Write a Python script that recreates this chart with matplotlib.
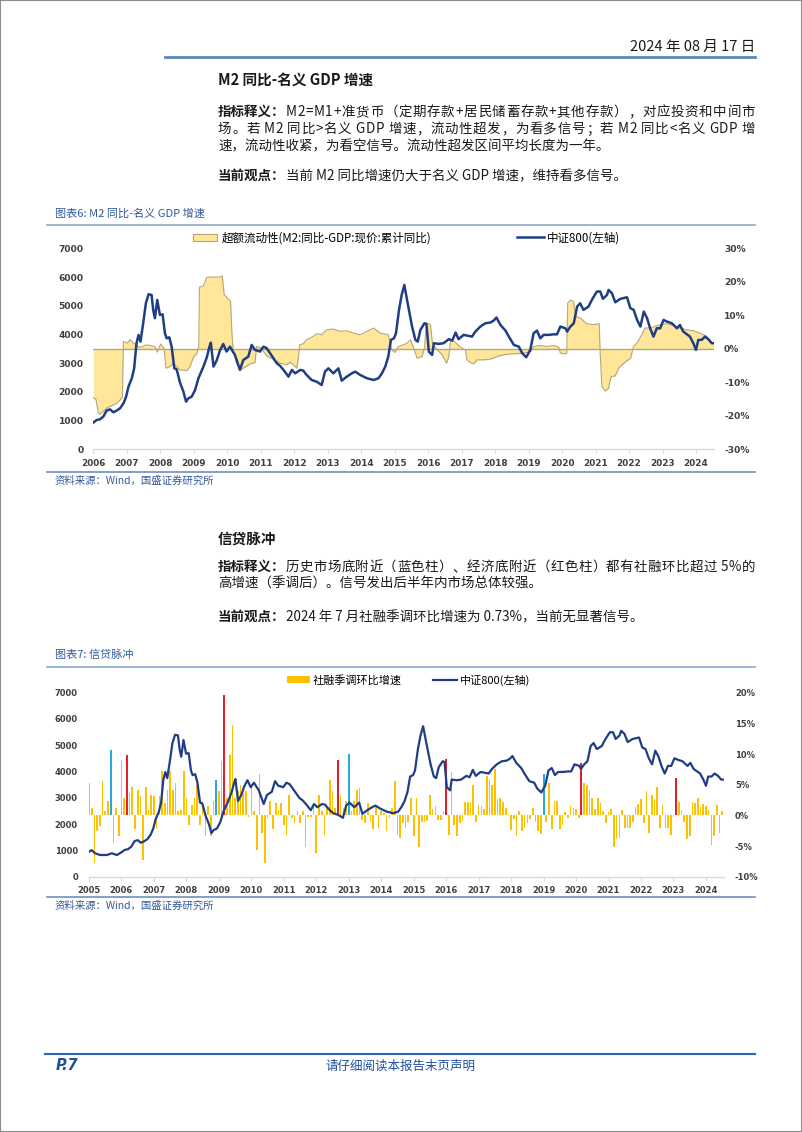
import matplotlib
matplotlib.use("Agg")
import matplotlib.pyplot as plt
from matplotlib.patches import Patch, Rectangle
from matplotlib.lines import Line2D

plt.rcParams['font.family'] = ['Noto Sans CJK SC', 'DejaVu Sans']
plt.rcParams['axes.unicode_minus'] = False

W, H = 802, 1132

# CSI 800 index (left axis of both charts), decimal years
csi_years = [2005.00, 2005.08, 2005.19, 2005.34, 2005.55, 2005.70, 2005.86,
             2006.00, 2006.10, 2006.20, 2006.30, 2006.40, 2006.50, 2006.60, 2006.70, 2006.80, 2006.90, 2006.98,
             2007.05, 2007.15, 2007.22, 2007.29, 2007.35, 2007.41, 2007.49, 2007.57, 2007.65, 2007.74, 2007.79,
             2007.84, 2007.91, 2007.99,
             2008.07, 2008.14, 2008.19, 2008.27, 2008.34, 2008.42, 2008.49, 2008.59, 2008.69, 2008.77, 2008.84, 2008.94,
             2009.04, 2009.14, 2009.29, 2009.39, 2009.47, 2009.51, 2009.59, 2009.69, 2009.78, 2009.88, 2009.98,
             2010.08, 2010.23, 2010.38, 2010.48, 2010.63, 2010.73, 2010.83, 2010.98,
             2011.08, 2011.18, 2011.28, 2011.38, 2011.48, 2011.58, 2011.68, 2011.83, 2011.93,
             2012.03, 2012.18, 2012.27, 2012.37, 2012.52, 2012.67, 2012.82, 2012.92,
             2013.02, 2013.17, 2013.32, 2013.42, 2013.57, 2013.72, 2013.82, 2013.97,
             2014.17, 2014.37, 2014.52, 2014.62, 2014.72, 2014.81, 2014.89, 2014.98,
             2015.04, 2015.13, 2015.21, 2015.29, 2015.37, 2015.52, 2015.62, 2015.69, 2015.77, 2015.89, 2015.95,
             2016.02, 2016.12, 2016.17, 2016.32, 2016.46, 2016.62, 2016.72, 2016.82, 2016.91,
             2017.06, 2017.21, 2017.31, 2017.41, 2017.56, 2017.71, 2017.86, 2017.96,
             2018.04, 2018.16, 2018.31, 2018.41, 2018.56, 2018.71, 2018.81, 2018.93,
             2019.05, 2019.15, 2019.25, 2019.35, 2019.45, 2019.60, 2019.75, 2019.85, 2019.95,
             2020.10, 2020.15, 2020.25, 2020.35, 2020.45, 2020.54, 2020.64, 2020.79, 2020.89,
             2021.04, 2021.14, 2021.22, 2021.34, 2021.39, 2021.49, 2021.59, 2021.74, 2021.94,
             2022.04, 2022.14, 2022.24, 2022.34, 2022.44, 2022.54, 2022.63, 2022.73, 2022.83, 2022.93,
             2023.03, 2023.13, 2023.28, 2023.43, 2023.52, 2023.62, 2023.82, 2023.92,
             2024.00, 2024.07, 2024.17, 2024.27, 2024.37, 2024.47, 2024.52]
csi_values = [950, 1010, 890, 825, 825, 890, 825,
              930, 1020, 1045, 1140, 1350, 1390, 1290, 1350, 1430, 1600, 1835,
              2180, 2470, 2820, 3690, 3980, 3750, 4390, 5085, 5400, 5375, 4850, 4565, 5200, 4680,
              4700, 4040, 3865, 3900, 3575, 2820, 2785, 2320, 2010, 1660, 1775, 1835,
              2065, 2475, 2880, 3205, 3575, 3715, 2880, 3110, 3435, 3670, 3405,
              3575, 3285, 2765, 3110, 3230, 3635, 3460, 3405,
              3575, 3520, 3345, 3170, 2995, 2905, 2765, 2530, 2765,
              2645, 2765, 2740, 2590, 2415, 2355, 2240, 2705,
              2820, 2645, 2820, 2390, 2530, 2645, 2705, 2590,
              2475, 2415, 2475, 2645, 2880, 3230, 3810, 3865,
              4040, 4855, 5375, 5725, 5205, 4275, 3810, 3750, 4160, 4390, 4365,
              3405, 3285, 3695, 3670, 3695, 3835, 3785, 4065, 3835,
              3985, 3950, 3925, 4100, 4275, 4390, 4415, 4485,
              4590, 4330, 4135, 3925, 3635, 3575, 3345, 3205,
              3460, 4040, 4135, 3865, 3985, 3985, 4005, 4005, 4275,
              4215, 4100, 4275, 4390, 4970, 5085, 4855, 4970, 5205,
              5495, 5495, 5240, 5375, 5550, 5435, 5120, 5240, 5295,
              4915, 4855, 4505, 4275, 4795, 4565, 4215, 3925, 4215, 4215,
              4505, 4450, 4390, 4215, 4330, 4100, 3925, 3695,
              3460, 3810, 3810, 3925, 3835, 3695, 3695]

# excess liquidity: M2 yoy - nominal GDP yoy (%), right axis of chart 1
liq_years = [2006.00, 2006.08, 2006.15, 2006.20, 2006.30, 2006.40, 2006.55, 2006.70, 2006.80, 2006.87, 2006.90,
             2007.02, 2007.10, 2007.20, 2007.39, 2007.59, 2007.84, 2007.91,
             2008.01, 2008.11, 2008.17, 2008.29, 2008.39, 2008.59, 2008.79, 2008.89, 2008.99,
             2009.09, 2009.15, 2009.17, 2009.29, 2009.39, 2009.59, 2009.78, 2009.85, 2009.91,
             2010.03, 2010.10, 2010.14, 2010.18, 2010.28, 2010.38, 2010.53, 2010.68, 2010.83, 2010.88, 2010.98,
             2011.08, 2011.18, 2011.28, 2011.38, 2011.58, 2011.78, 2011.88, 2011.98,
             2012.08, 2012.13, 2012.16, 2012.27, 2012.37, 2012.52, 2012.67, 2012.82, 2012.97,
             2013.17, 2013.37, 2013.57, 2013.77, 2013.97,
             2014.17, 2014.37, 2014.57, 2014.81, 2014.91,
             2015.01, 2015.11, 2015.26, 2015.37, 2015.47, 2015.55, 2015.67, 2015.82, 2015.89, 2015.95,
             2016.07, 2016.13, 2016.27, 2016.42, 2016.55, 2016.62, 2016.67, 2016.82, 2016.96,
             2017.11, 2017.16, 2017.26, 2017.36, 2017.46, 2017.66, 2017.86,
             2018.06, 2018.26, 2018.46, 2018.75, 2018.95,
             2019.07, 2019.15, 2019.35, 2019.55, 2019.75, 2019.90, 2019.95,
             2020.10, 2020.14, 2020.17, 2020.24, 2020.34, 2020.40, 2020.54, 2020.74, 2020.94,
             2021.11, 2021.14, 2021.19, 2021.29, 2021.39, 2021.46, 2021.59, 2021.69, 2021.79, 2021.91,
             2022.05, 2022.13, 2022.25, 2022.38, 2022.48, 2022.63, 2022.78, 2022.93,
             2023.13, 2023.33, 2023.52, 2023.72, 2023.92,
             2024.12, 2024.32, 2024.42, 2024.52]
liq_values = [-14.6, -15.1, -19.2, -19.5, -18.7, -17.7, -17.0, -16.3, -15.3, -14.3, 2.2,
              1.7, 2.7, 1.7, 0.4, 1.2, 0.7, -1.0,
              1.4, 0.2, -5.8, -5.3, -4.3, -6.3, -6.5, -5.3, -2.5,
              -1.5, 0.7, 18.4, 18.8, 21.4, 21.4, 21.4, 21.8, 16.2,
              14.9, 14.2, 4.7, -0.5, -4.3, -6.3, -5.5, -4.5, -4.1, 0.7, 0.4,
              -0.8, -2.1, -2.7, -3.1, -4.3, -4.8, -4.0, -4.8,
              -5.8, -2.3, 1.2, 1.5, 2.7, 3.4, 4.5, 4.2, 5.7,
              5.9, 5.2, 5.4, 4.7, 4.2,
              5.2, 6.2, 4.7, 4.2, -0.3,
              -1.1, 0.7, 1.2, 1.7, 2.7, 0.7, -2.8, -2.3, 0.2, 7.7,
              7.2, 1.7, -0.3, -1.8, -4.3, -2.3, 2.7, 1.9, 0.5,
              -0.3, -3.3, -4.1, -4.5, -3.3, -3.3, -3.1,
              -2.3, -1.8, -1.5, -1.4, -1.1,
              -0.8, 0.7, 1.0, 0.7, 1.0, 0.5, -1.3,
              -1.5, -1.3, 13.7, 14.5, 14.2, 9.7, 9.2, 7.5, 7.2,
              7.5, -1.8, -11.3, -12.6, -11.8, -8.3, -8.1, -5.8, -4.8, -3.8,
              -2.8, 0.7, 1.9, 4.2, 6.2, 6.2, 6.7, 7.2,
              7.5, 6.9, 6.2, 5.7, 5.4,
              4.7, 3.7, 2.2, 1.7]

# social financing, seasonally adjusted m/m growth (%), monthly from 2005-01
tsf_start = 2005
tsf_values = [5.3, 1.2, -7.8, -2.6, -1.8, 5.6, 0.7, 2.3, 10.6, -4.5, 1.2, -3.4,
              9.1, 2.8, 9.8, 3.7, 4.7, -2.3, 4.2, 3.1, -7.3, 4.7, 0.9, 3.4,
              3.1, -2.3, 3.1, 7.2, 2.0, 4.2, 7.2, 4.2, 5.3, 0.7, 0.9, 7.2,
              2.8, -1.5, 1.7, 2.9, 5.0, -1.5, 2.3, -3.4, 1.5, -3.4, 2.3, 5.8,
              3.9, 8.8, 19.7, 2.8, 9.9, 14.7, 2.8, 3.9, 5.0, 3.7, 3.9, -0.2,
              4.7, 0.7, -5.6, 6.7, -2.9, -7.8, -0.4, 2.3, -2.3, 2.0, 0.9, 2.0,
              -1.5, -3.2, 3.4, -0.4, -1.3, 0.7, -1.3, 0.7, -5.1, -0.2, -0.3, 1.7,
              -6.2, 3.4, 0.7, -3.2, 1.2, 5.8, 3.9, 1.2, 9.1, 3.4, 1.2, 2.3,
              10.0, 0.7, 2.3, 4.2, 4.5, -0.7, -1.3, 2.0, -1.0, -2.3, 1.7, -2.1,
              0.7, 0.4, -2.6, -0.4, 1.2, 5.6, -3.2, -3.7, -1.3, -2.1, -1.0, 2.8,
              -3.4, 2.8, -5.1, -1.0, -1.0, -0.9, 3.4, 1.0, 1.6, -0.7, -0.7, 0.7,
              9.2, -3.2, 7.0, -1.5, -3.4, -1.3, -0.9, 2.2, 2.2, 2.0, 5.0, -1.0,
              1.7, 1.5, 1.0, 6.4, 5.9, 4.9, 7.6, 2.6, 2.9, 2.2, 1.2, 0.3,
              -2.4, -0.6, -3.3, 0.7, -2.6, -2.1, -1.3, -0.6, 1.2, -1.0, -2.5, -3.0,
              6.8, -1.0, 5.3, -2.3, 2.4, 2.4, -2.2, -1.5, 0.5, -0.4, 1.5, 1.2,
              1.0, -0.4, 8.6, 5.2, 5.0, 4.2, 2.8, 1.1, 2.8, 2.0, 0.7, -1.3,
              0.5, 1.0, -5.2, -3.9, -3.7, 0.8, -2.0, -2.0, -2.0, -1.0, 1.3, 1.8,
              2.6, -1.3, 3.9, -2.8, 3.4, 2.6, 4.6, -2.0, 1.7, -2.0, -2.0, -3.2,
              -0.3, 6.1, 2.2, 0.9, -1.0, -3.8, -3.3, 2.1, 2.0, 2.8, 1.3, 1.8,
              1.5, 0.8, -4.8, -3.3, 1.7, -2.9, 0.73]
tsf_blue = ['2005-09', '2008-12', '2013-01', '2019-01']   # market bottoms
tsf_red = ['2006-03', '2009-03', '2012-09', '2016-01', '2020-03', '2023-02']  # economy bottoms

years_1 = list(range(2006, 2025))
years_2 = list(range(2005, 2025))
left_ticks = list(range(0, 7001, 1000))
right_ticks_1 = [-30, -20, -10, 0, 10, 20, 30]
right_ticks_2 = [-10, -5, 0, 5, 10, 15, 20]

NAVY = '#203E84'
FILL = '#FFE699'
FILL_EDGE = '#B5A67C'
GOLD = '#FFC000'
BLUE_BAR = '#27A8E0'
RED_BAR = '#E3202B'
TICK = '#404040'
AXLINE = '#D9D9D9'
CAPTION = '#34589A'
TEXT = '#1A1A1A'

fig = plt.figure(figsize=(W / 100, H / 100), dpi=100)
renderer = fig.canvas.get_renderer()


def fx(x):
    return x / W


def fy(y):
    return 1 - y / H


def px_axes(x0, y0, x1, y1):
    return fig.add_axes([x0 / W, 1 - y1 / H, (x1 - x0) / W, (y1 - y0) / H])


def hline(y, x0, x1, color, lw):
    fig.add_artist(Line2D([fx(x0), fx(x1)], [fy(y), fy(y)], color=color, lw=lw))


def body_line(y, bold, rest='', size=9.7, x=218, right=None):
    # one line of body text; bold lead-in, optionally justified to `right` (px)
    xr = x
    if bold:
        t = fig.text(fx(x), fy(y), bold, fontsize=size, fontweight='bold', va='center', color=TEXT)
        xr = t.get_window_extent(renderer).x1
    if not rest:
        return
    if right is None:
        fig.text(fx(xr), fy(y), rest, fontsize=size, va='center', color=TEXT)
        return
    pieces = [fig.text(0, fy(y), c, fontsize=size, va='center', color=TEXT) for c in rest]
    probe = fig.text(0, 0, 'x x', fontsize=size)
    probe2 = fig.text(0, 0, 'xx', fontsize=size)
    space_w = probe.get_window_extent(renderer).width - probe2.get_window_extent(renderer).width
    probe.remove()
    probe2.remove()
    widths = [space_w if c == ' ' else p.get_window_extent(renderer).width for c, p in zip(rest, pieces)]
    gap = (right - xr - sum(widths)) / max(len(pieces) - 1, 1)
    pos = xr
    for p, w in zip(pieces, widths):
        p.set_x(fx(pos))
        pos += w + gap


def style(ax, axr, pad_y=7):
    for s in ['top', 'left', 'right']:
        ax.spines[s].set_visible(False)
    ax.spines['bottom'].set_color(AXLINE)
    ax.spines['bottom'].set_linewidth(1.0)
    for s in axr.spines.values():
        s.set_visible(False)
    ax.tick_params(axis='y', length=0, pad=pad_y)
    axr.tick_params(axis='y', length=0, pad=pad_y)
    ax.tick_params(axis='x', length=3, color=AXLINE, pad=4)
    ax.set_zorder(axr.get_zorder() + 1)
    ax.patch.set_visible(False)


lab_kw = dict(fontweight='bold', color=TICK, family='DejaVu Sans')

# ---------------- page furniture ----------------
fig.add_artist(Rectangle((0, 0), 1, 1, transform=fig.transFigure, fill=False,
                         edgecolor='#8C8C8C', lw=1.5))
fig.text(fx(755), fy(47), '2024 年 08 月 17 日', fontsize=10.5, ha='right', va='center', color=TEXT)
hline(57, 165, 755, '#5A86B8', 2.0)

fig.text(fx(218), fy(80), 'M2 同比-名义 GDP 增速', fontsize=10.5, fontweight='bold', va='center', color=TEXT)
body_line(112, '指标释义：', 'M2=M1+准货币（定期存款+居民储蓄存款+其他存款），对应投资和中间市', right=755)
body_line(129, '', '场。若 M2 同比>名义 GDP 增速，流动性超发，为看多信号；若 M2 同比<名义 GDP 增', right=755)
body_line(146, '', '速，流动性收紧，为看空信号。流动性超发区间平均长度为一年。')
body_line(176, '当前观点：', '当前 M2 同比增速仍大于名义 GDP 增速，维持看多信号。')

fig.text(fx(55), fy(214), '图表6: M2 同比-名义 GDP 增速', fontsize=8, style='italic', va='center', color=CAPTION)
hline(225, 47, 755, '#8EA9C8', 1.2)
hline(472, 47, 755, '#6F8FC0', 1.2)
fig.text(fx(55), fy(481), '资料来源：Wind，国盛证券研究所', fontsize=7.5, style='italic', va='center', color=CAPTION)

fig.text(fx(218), fy(539), '信贷脉冲', fontsize=10.5, fontweight='bold', va='center', color=TEXT)
body_line(567, '指标释义：', '历史市场底附近（蓝色柱）、经济底附近（红色柱）都有社融环比超过 5%的', right=755)
body_line(584, '', '高增速（季调后）。信号发出后半年内市场总体较强。')
body_line(617, '当前观点：', '2024 年 7 月社融季调环比增速为 0.73%，当前无显著信号。')

fig.text(fx(55), fy(655), '图表7: 信贷脉冲', fontsize=8, style='italic', va='center', color=CAPTION)
hline(667, 47, 755, '#8EA9C8', 1.2)
hline(897, 47, 755, '#6F8FC0', 1.2)
fig.text(fx(55), fy(906), '资料来源：Wind，国盛证券研究所', fontsize=7.5, style='italic', va='center', color=CAPTION)

hline(1054, 45, 755, '#2E64B4', 1.5)
fig.text(fx(56), fy(1066), 'P.7', fontsize=10.5, fontweight='bold', style='italic', va='center',
         color='#1F4E9F', family='DejaVu Sans')
fig.text(fx(400), fy(1066), '请仔细阅读本报告末页声明', fontsize=9, style='italic', ha='center', va='center',
         color='#1F4E9F')

# ---------------- chart 1: M2 - nominal GDP ----------------
ax1 = px_axes(93.3, 248.3, 714.4, 449.3)
ax1r = ax1.twinx()
ax1r.fill_between(liq_years, 0, liq_values, color=FILL, lw=0, interpolate=True)
ax1r.plot(liq_years, liq_values, color=FILL_EDGE, lw=0.8)
ax1r.axhline(0, color=FILL_EDGE, lw=1.0)
ax1.plot(csi_years, csi_values, color=NAVY, lw=1.8)

ax1.set_xlim(2006, 2024.55)
ax1.set_ylim(0, 7000)
ax1r.set_ylim(-30, 30)
ax1.set_xticks(years_1, [str(y) for y in years_1], fontsize=6.4, **lab_kw)
ax1.set_yticks(left_ticks, [str(v) for v in left_ticks], fontsize=6.6, **lab_kw)
ax1r.set_yticks(right_ticks_1, [f'{v}%' for v in right_ticks_1], fontsize=6.6, **lab_kw)
style(ax1, ax1r)

fig.legend(handles=[Patch(facecolor=FILL, edgecolor=FILL_EDGE, lw=0.8)],
           labels=['超额流动性(M2:同比-GDP:现价:累计同比)'], loc='center left',
           bbox_to_anchor=(fx(193), fy(238)), frameon=False, fontsize=8.3,
           handlelength=2.1, handleheight=0.6, handletextpad=0.35, borderpad=0, borderaxespad=0)
fig.legend(handles=[Line2D([], [], color=NAVY, lw=1.8)], labels=['中证800(左轴)'], loc='center left',
           bbox_to_anchor=(fx(517), fy(238)), frameon=False, fontsize=8.3,
           handlelength=2.3, handletextpad=0.3, borderpad=0, borderaxespad=0)

# ---------------- chart 2: credit impulse ----------------
ax2 = px_axes(89, 692.7, 723.8, 876.7)
ax2r = ax2.twinx()


def month_index(tag):
    yy, mm = tag.split('-')
    return (int(yy) - tsf_start) * 12 + int(mm) - 1


blue_idx = {month_index(t) for t in tsf_blue}
red_idx = {month_index(t) for t in tsf_red}
tsf_x = [tsf_start + i / 12 for i in range(len(tsf_values))]
colors = [BLUE_BAR if i in blue_idx else RED_BAR if i in red_idx else GOLD for i in range(len(tsf_values))]
widths = [0.062 if (i in blue_idx or i in red_idx) else 0.05 for i in range(len(tsf_values))]
ax2r.bar(tsf_x, tsf_values, width=widths, color=colors, lw=0)
ax2.plot(csi_years, csi_values, color=NAVY, lw=1.6)

ax2.set_xlim(2005, 2024.55)
ax2.set_ylim(0, 7000)
ax2r.set_ylim(-10, 20)
ax2.set_xticks(years_2, [str(y) for y in years_2], fontsize=6.0, **lab_kw)
ax2.set_yticks(left_ticks, [str(v) for v in left_ticks], fontsize=6.0, **lab_kw)
ax2r.set_yticks(right_ticks_2, [f'{v}%' for v in right_ticks_2], fontsize=6.0, **lab_kw)
style(ax2, ax2r, pad_y=8)

fig.legend(handles=[Patch(facecolor=GOLD, lw=0)], labels=['社融季调环比增速'], loc='center left',
           bbox_to_anchor=(fx(287), fy(680)), frameon=False, fontsize=8.0,
           handlelength=2.1, handleheight=0.6, handletextpad=0.2, borderpad=0, borderaxespad=0)
fig.legend(handles=[Line2D([], [], color=NAVY, lw=1.6)], labels=['中证800(左轴)'], loc='center left',
           bbox_to_anchor=(fx(433), fy(680)), frameon=False, fontsize=8.0,
           handlelength=2.2, handletextpad=0.25, borderpad=0, borderaxespad=0)

fig.savefig('out.png', dpi=100)
